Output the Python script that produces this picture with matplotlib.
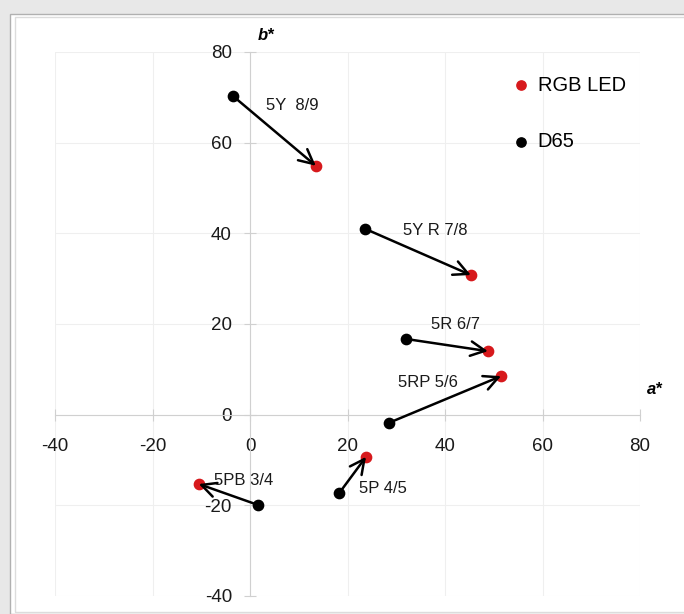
import matplotlib
matplotlib.use("Agg")
import matplotlib.pyplot as plt
from matplotlib.patches import Rectangle

plt.rcParams['font.family'] = ['Liberation Sans Narrow', 'Liberation Sans', 'DejaVu Sans']
plt.rcParams['axes.unicode_minus'] = False

# Munsell samples: chromaticity under D65 -> under RGB LED
names = ['5Y  8/9', '5Y R 7/8', '5R 6/7', '5RP 5/6', '5P 4/5', '5PB 3/4']
d65_a = [-3.5, 23.6, 32.0, 28.5, 18.3, 1.6]
d65_b = [70.3, 41.0, 16.7, -1.8, -17.3, -19.9]
led_a = [13.5, 45.3, 48.8, 51.5, 23.8, -10.5]
led_b = [54.9, 30.8, 14.0, 8.5, -9.3, -15.3]
label_a = [8.6, 37.9, 42.1, 36.5, 27.3, -1.4]
label_b = [68.1, 40.7, 19.8, 7.2, -16.2, -14.6]
ticks = [-40, -20, 0, 20, 40, 60, 80]

fig = plt.figure(figsize=(6.84, 6.14), dpi=100)
fig.patch.set_facecolor('#e8e8e8')
fig.patches.append(Rectangle((10/684, 0), 1, 600/614, transform=fig.transFigure,
                             facecolor='white', edgecolor='#b0b0b0', lw=1, zorder=-2))
fig.patches.append(Rectangle((15/684, 2/614), 1, 595/614, transform=fig.transFigure,
                             facecolor='none', edgecolor='#dcdcdc', lw=1, zorder=-1))

ax = fig.add_axes([55/684, 18/614, 585/684, 544/614])
ax.set_facecolor('none')
ax.set_xlim(-40, 80)
ax.set_ylim(-40, 80)
ax.set_xticks(ticks)
ax.set_yticks(ticks)
ax.grid(True, color='#efefef', lw=0.8)
ax.set_axisbelow(True)

for s in ['top', 'right']:
    ax.spines[s].set_visible(False)
ax.spines['left'].set_position(('data', 0))
ax.spines['bottom'].set_position(('data', 0))
for s in ['left', 'bottom']:
    ax.spines[s].set_color('#d0d0d0')
ax.tick_params(axis='both', direction='inout', length=8, color='#d0d0d0',
               labelsize=13.5, labelcolor='#1a1a1a')
ax.tick_params(axis='y', pad=9)
ax.tick_params(axis='x', pad=13)

ax.scatter(led_a, led_b, s=55, color='#d7191c', zorder=3, label='RGB LED')
ax.scatter(d65_a, d65_b, s=55, color='black', zorder=3, label='D65')

for i in range(len(names)):
    ax.annotate('', xy=(led_a[i], led_b[i]), xytext=(d65_a[i], d65_b[i]),
                arrowprops=dict(arrowstyle='->', lw=1.8, color='black',
                                mutation_scale=26, shrinkA=0, shrinkB=0),
                zorder=4)
    ax.text(label_a[i], label_b[i], names[i], ha='center', va='center',
            fontsize=12, color='#1a1a1a')

ax.text(3.2, 83.6, 'b*', fontsize=12, fontweight='bold', fontstyle='italic',
        ha='center', va='center', clip_on=False)
ax.text(83, 5.5, 'a*', fontsize=12, fontweight='bold', fontstyle='italic',
        ha='center', va='center', clip_on=False)

ax.legend(loc='upper left', bbox_to_anchor=(0.756, 0.99), frameon=False,
          fontsize=14.5, handlelength=0.6, handletextpad=0.5, labelspacing=1.85,
          scatterpoints=1, markerscale=0.9)

fig.savefig('out.png', dpi=100, facecolor=fig.get_facecolor())
